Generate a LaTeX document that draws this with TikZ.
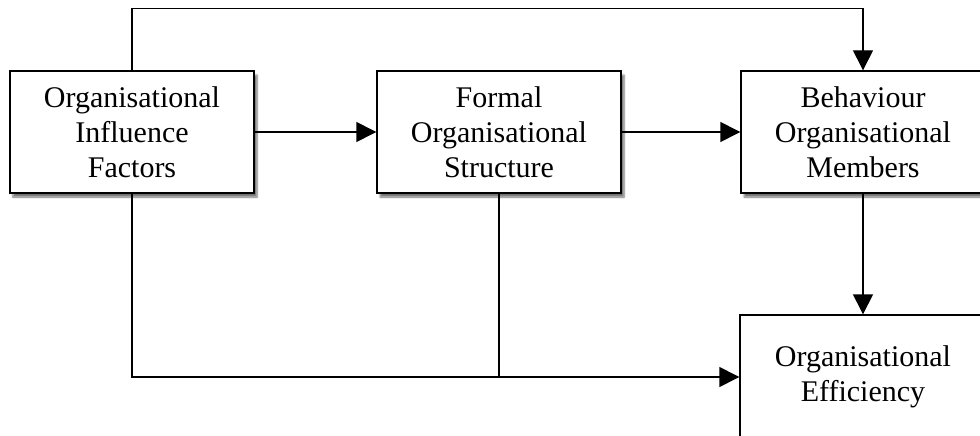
\documentclass[tikz,border=0pt]{standalone}
\usepackage{fontspec}
\setmainfont{Liberation Serif}
\usetikzlibrary{arrows.meta,shadows.blur}
\begin{document}
\begin{tikzpicture}[x=1pt,y=-1pt,
  box/.style={draw, line width=1.4pt, fill=white, minimum width=244pt,
    minimum height=122pt, align=center, inner sep=0pt,
    font=\fontsize{30}{35}\selectfont,
    blur shadow={shadow xshift=3pt, shadow yshift=-4pt,
      shadow blur steps=6, shadow opacity=55}},
  link/.style={line width=1.4pt},
  arr/.style={link, -{Triangle[length=20pt,width=20pt]}}]
\useasboundingbox (0,0) rectangle (980,436);
\clip (0,0) rectangle (980,436);

\node[box] (b1) at (132,132) {Organisational\\Influence\\Factors};
\node[box] (b2) at (499,132) {Formal\\Organisational\\Structure};
\node[box] (b3) at (863,132) {Behaviour\\Organisational\\Members};
\node[box, minimum width=246pt, minimum height=124pt] (b4) at (863,377) {Organisational\\Efficiency};

\draw[arr] (b1) -- (b2);
\draw[arr] (b2) -- (b3);
\draw[arr] (b3) -- (b4);
\draw[arr] (b1.north) -- ++(0,-62) -| (b3.north);
\draw[arr] (b1.south) |- (b4.west);
\draw[link] (b2.south) -- (b2.south |- b4.west);
\end{tikzpicture}
\end{document}
